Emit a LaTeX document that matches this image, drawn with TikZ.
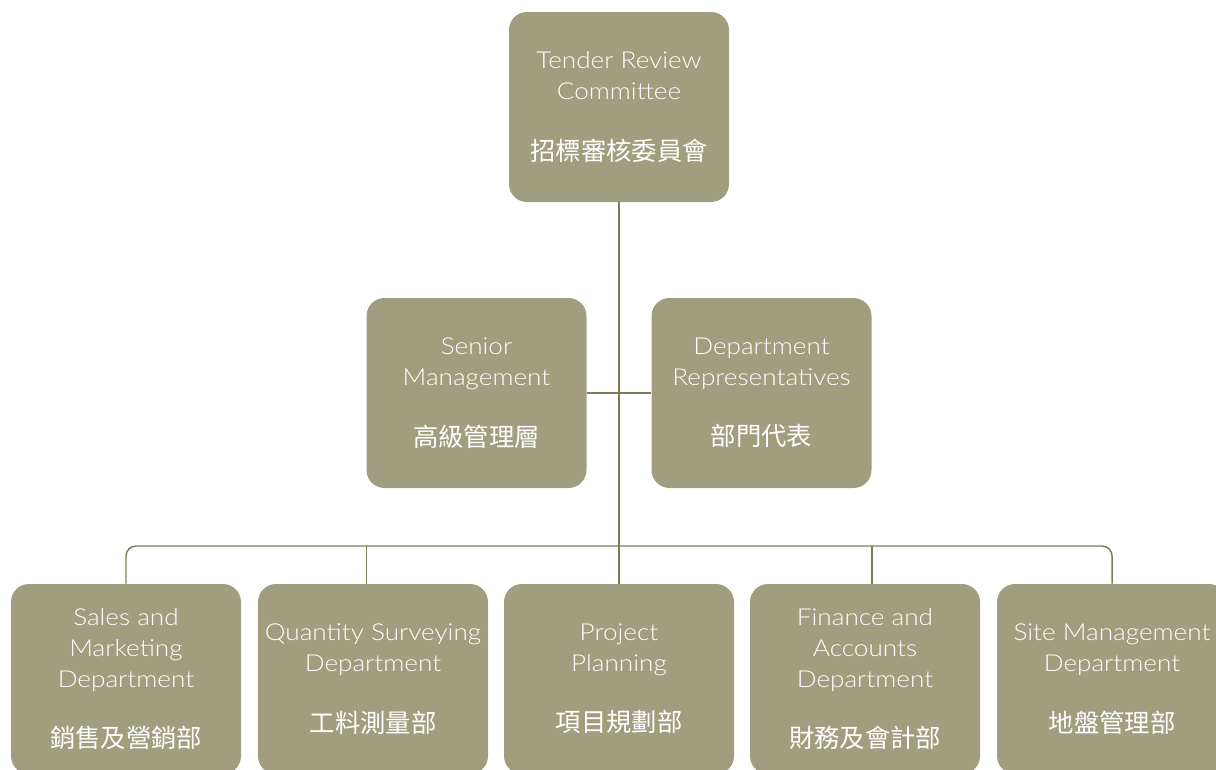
\documentclass[tikz,border=0pt]{standalone}
\usepackage{fontspec}
\setmainfont{Lato}[UprightFont={* Light},FakeStretch=1.12]
\newfontfamily\cjk{Noto Sans CJK TC}
\definecolor{boxfill}{HTML}{A09E7F}
\definecolor{linecol}{HTML}{7E7C57}
\begin{document}
\begin{tikzpicture}[x=0.75pt,y=-0.75pt,
  box/.style={draw=none,fill=boxfill,rounded corners=13.5pt,minimum width=165pt,minimum height=142.5pt,
    align=center,text=white,inner sep=0pt,font=\fontsize{17.5pt}{23.25pt}\selectfont},
  wbox/.style={box,minimum width=172.5pt},
  conn/.style={draw=linecol,line width=1.1pt}]
\useasboundingbox (0,0) rectangle (1216,769);
\newcommand{\zh}[1]{\\[22pt]{\cjk\fontsize{19pt}{23pt}\selectfont #1}}
\node[box] (top) at (619,107) {Tender Review\\Committee\zh{招標審核委員會}};
\node[box] (senior) at (476.5,393) {Senior\\Management\zh{高級管理層}};
\node[box] (reps) at (761.5,393) {Department\\Representatives\zh{部門代表}};
\node[wbox] (sales) at (126,679) {Sales and\\Marketing\\Department\zh{銷售及營銷部}};
\node[wbox] (qs) at (373,679) {Quantity Surveying\\Department\zh{工料測量部}};
\node[wbox] (proj) at (619,679) {Project\\Planning\zh{項目規劃部}};
\node[wbox] (fin) at (865,679) {Finance and\\Accounts\\Department\zh{財務及會計部}};
\node[wbox] (site) at (1112,679) {Site Management\\Department\zh{地盤管理部}};
\coordinate (bus) at (619,546);
\draw[conn] (top.south) -- (proj.north);
\draw[conn] (senior.east) -- (reps.west);
\draw[conn,rounded corners=7.5pt] (sales.north) |- (bus) -| (site.north);
\draw[conn] (bus -| senior.west) -- (qs.north -| senior.west);
\draw[conn] (bus -| reps.east) -- (fin.north -| reps.east);
\end{tikzpicture}
\end{document}
